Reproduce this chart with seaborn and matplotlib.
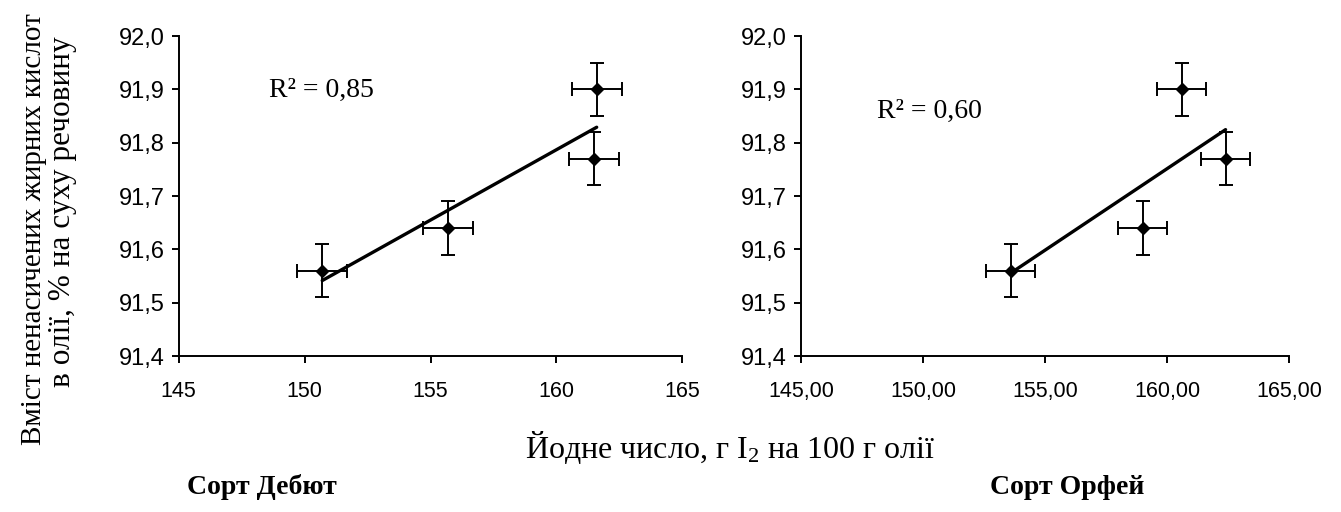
import numpy as np
import pandas as pd
import matplotlib
matplotlib.use("Agg")
import matplotlib.pyplot as plt
from matplotlib.ticker import FuncFormatter
import seaborn as sns

# Iodine value (g I2 / 100 g oil) and unsaturated fatty acid content (% dry matter)
iodine_debut = [150.7, 155.7, 161.6, 161.5]
iodine_orfei = [153.6, 159.0, 160.6, 162.4]
unsat_acids = [91.56, 91.64, 91.90, 91.77]
iodine_err = [1.0, 1.0, 1.0, 1.0]
unsat_err = [0.05, 0.05, 0.05, 0.05]
r_squared = [0.85, 0.60]
variety_names = ["Сорт Дебют", "Сорт Орфей"]
x_ticks = [145, 150, 155, 160, 165]
y_ticks = [91.4, 91.5, 91.6, 91.7, 91.8, 91.9, 92.0]

sns.set_theme(style="ticks")
plt.rcParams["font.family"] = ["Liberation Sans", "DejaVu Sans"]
plt.rcParams["text.color"] = "black"
plt.rcParams["axes.labelcolor"] = "black"
plt.rcParams["mathtext.fontset"] = "custom"
plt.rcParams["mathtext.rm"] = "Liberation Serif"
plt.rcParams["mathtext.it"] = "Liberation Serif:italic"

SERIF = ["Liberation Serif", "DejaVu Serif"]

fig = plt.figure(figsize=(13.41, 5.12), dpi=100)
W, H = 1341, 512
ax_left = fig.add_axes([178.7 / W, (H - 356) / H, 503.6 / W, 320 / H])
ax_right = fig.add_axes([801 / W, (H - 356) / H, 488 / W, 320 / H])

panels = [
    (ax_left, iodine_debut, r_squared[0], lambda v, p: f"{v:.0f}", (148.6, 91.886)),
    (ax_right, iodine_orfei, r_squared[1], lambda v, p: f"{v:.2f}".replace(".", ","), (148.1, 91.846)),
]

for ax, xs, r2, xfmt, r2_pos in panels:
    df = pd.DataFrame({"iodine": xs, "unsat": unsat_acids})
    # linear trend line over the data range
    sns.regplot(data=df, x="iodine", y="unsat", ax=ax, scatter=False, ci=None,
                truncate=True, color="black", line_kws={"linewidth": 2.4})
    ax.errorbar(df["iodine"], df["unsat"], xerr=iodine_err, yerr=unsat_err,
                fmt="D", color="black", markersize=6.5, elinewidth=1.4,
                capsize=5, capthick=1.4, zorder=3)
    ax.text(r2_pos[0], r2_pos[1], f"R² = {r2:.2f}".replace(".", ","),
            fontsize=20, family=SERIF, ha="left", va="baseline", color="black")

    ax.set_xlim(145, 165)
    ax.set_ylim(91.4, 92.0)
    ax.set_xticks(x_ticks)
    ax.set_yticks(y_ticks)
    ax.xaxis.set_major_formatter(FuncFormatter(xfmt))
    ax.yaxis.set_major_formatter(FuncFormatter(lambda v, p: f"{v:.1f}".replace(".", ",")))
    ax.set_xlabel("")
    ax.set_ylabel("")
    for side in ("top", "right"):
        ax.spines[side].set_visible(False)
    for side in ("left", "bottom"):
        ax.spines[side].set_linewidth(1.4)
        ax.spines[side].set_color("black")
    ax.tick_params(axis="both", direction="out", length=5, width=1.4, colors="black",
                   labelcolor="black")
    ax.tick_params(axis="x", pad=13, labelsize=15.5)
    ax.tick_params(axis="y", pad=5, labelsize=17)
    ax.set_facecolor("white")

# two-line vertical axis title
fig.text(34 / W, 1 - 229 / H, "Вміст ненасичених жирних кислот",
         rotation=90, ha="center", va="center", fontsize=21, family=SERIF)
fig.text(63 / W, 1 - 212 / H, "в олії, % на суху речовину",
         rotation=90, ha="center", va="center", fontsize=22.5, family=SERIF)
fig.text(730 / W, 1 - 447 / H, "Йодне число, г I$_2$ на 100 г олії",
         ha="center", va="center", fontsize=23, family=SERIF)
fig.text(262 / W, 1 - 487 / H, variety_names[0], ha="center", va="center",
         fontsize=20, family=SERIF, fontweight="bold")
fig.text(1067 / W, 1 - 487 / H, variety_names[1], ha="center", va="center",
         fontsize=20, family=SERIF, fontweight="bold")

fig.savefig("out.png", dpi=100, facecolor="white")
